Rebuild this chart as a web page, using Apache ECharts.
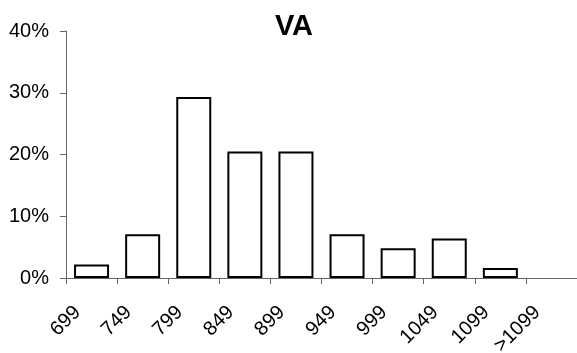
<!DOCTYPE html>
<html>
<head>
<meta charset="utf-8">
<script src="https://cdn.jsdelivr.net/npm/echarts@6/dist/echarts.min.js"></script>
<style>
    html, body { margin: 0; padding: 0; background: #fff; }
    #chart { width: 577px; height: 353px; }
</style>
</head>
<body>
<div id="chart"></div>
<script>
// bins (upper bound of each range)
var categories = ["699", "749", "799", "849", "899", "949", "999", "1049", "1099", ">1099"];
// share of records in each bin, percent
var shares = [2.2, 7.1, 29.3, 20.5, 20.5, 7.1, 4.8, 6.4, 1.6, 0];
var yMax = 40;
var yStep = 10;

var font = "'Liberation Sans', Arial, sans-serif";
var chart = echarts.init(document.getElementById("chart"));

var options = {
    animation: false,
    title: {
        text: "VA",
        left: 289,
        textAlign: "center",
        top: 7,
        textStyle: {
            fontFamily: font,
            fontSize: 29,
            fontWeight: "bold",
            color: "#000"
        }
    },
    grid: {
        left: 66,
        right: 0,
        top: 31,
        bottom: 75,
        outerBoundsMode: "none"
    },
    xAxis: {
        type: "category",
        data: categories,
        axisLine: { lineStyle: { color: "#666", width: 1 } },
        axisTick: { show: true, length: 6, lineStyle: { color: "#666" } },
        axisLabel: {
            rotate: 45,
            margin: 17,
            padding: [0, 20, 0, 0],
            interval: 0,
            fontFamily: font,
            fontSize: 20,
            color: "#000"
        }
    },
    yAxis: {
        type: "value",
        min: 0,
        max: yMax,
        interval: yStep,
        axisLine: { show: true, lineStyle: { color: "#666", width: 1 } },
        axisTick: { show: true, length: 6, lineStyle: { color: "#666" } },
        splitLine: { show: false },
        axisLabel: {
            margin: 17,
            fontFamily: font,
            fontSize: 20,
            color: "#000",
            formatter: function (v) {
                return v + "%";
            }
        }
    },
    series: [
        {
            type: "bar",
            // empty bins get no bar at all
            data: shares.map(function (v) { return v === 0 ? "-" : v; }),
            barWidth: 35,
            itemStyle: {
                color: "#fff",
                borderColor: "#000",
                borderWidth: 2
            }
        }
    ]
};

chart.setOption(options);
</script>
</body>
</html>
